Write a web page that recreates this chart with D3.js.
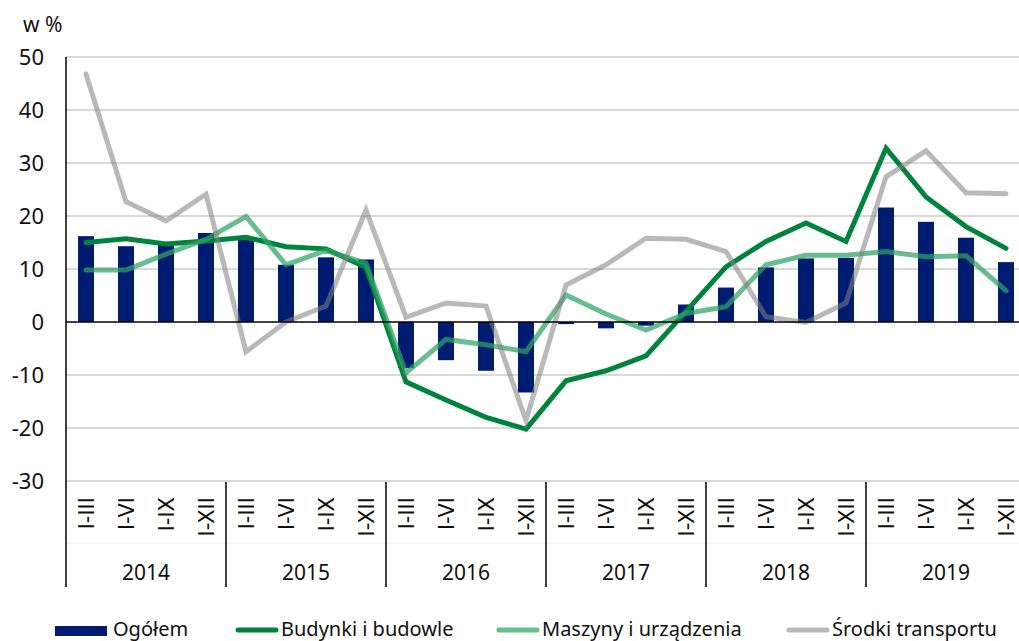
<!DOCTYPE html>
<html><head><meta charset="utf-8">
<script src="https://cdn.jsdelivr.net/npm/d3@7"></script>
<style>html,body{margin:0;padding:0;background:#fff;overflow:hidden}svg{display:block;font-family:"Noto Sans",sans-serif}</style>
</head><body><svg id="c" width="1019" height="641"></svg>
<script>
const years = ["2014","2015","2016","2017","2018","2019"];
const quarters = ["I-III","I-VI","I-IX","I-XII"];
const yTicks = [50,40,30,20,10,0,-10,-20,-30];
const ogolem = [16.2,14.3,14.8,16.8, 15.6,10.8,12.2,11.8, -8.7,-7.2,-9.2,-13.3, -0.4,-1.2,-0.7,3.3, 6.5,10.3,12.0,12.1, 21.6,18.9,15.9,11.3];
const budynki = [15.0,15.7,14.7,15.3, 16.0,14.2,13.8,10.3, -11.3,-14.7,-18.0,-20.2, -11.1,-9.2,-6.4,2.0, 10.4,15.2,18.7,15.2, 32.8,23.6,18.0,13.9];
const maszyny = [9.8,9.8,12.8,15.6, 19.9,10.8,13.5,11.1, -9.6,-3.3,-4.3,-5.6, 5.1,1.5,-1.5,1.6, 2.9,10.8,12.6,12.6, 13.3,12.3,12.5,5.9];
const srodki = [46.8,22.7,19.1,24.1, -5.6,0.0,3.0,21.1, 0.9,3.6,3.0,-18.6, 7.0,10.8,15.8,15.6, 13.3,1.0,-0.1,3.6, 27.4,32.3,24.4,24.2];
const seriesNames = ["Ogółem","Budynki i budowle","Maszyny i urządzenia","Środki transportu"];

const svg = d3.select("#c");
const cats = [];
years.forEach(y => quarters.forEach(q => cats.push(y + "|" + q)));
const x = d3.scaleBand().domain(cats).range([66, 1026]).paddingInner(0.6).paddingOuter(0.3);
const y = d3.scaleLinear().domain([-30, 50]).range([481, 57]);
const cx = c => x(c) + x.bandwidth() / 2;

// gridlines
svg.append("g").selectAll("line").data(yTicks.filter(t => t !== 0)).join("line")
  .attr("x1", 66).attr("x2", 1019).attr("y1", d => y(d)).attr("y2", d => y(d))
  .attr("stroke", "#d9d9d9").attr("stroke-width", 2);
svg.append("line").attr("x1", 66).attr("x2", 1019).attr("y1", 543).attr("y2", 543)
  .attr("stroke", "#eeeeee").attr("stroke-width", 1);

// y tick labels
svg.append("g").selectAll("text").data(yTicks).join("text")
  .attr("x", 44).attr("y", d => y(d)).attr("dy", "0.36em").attr("text-anchor", "end")
  .attr("font-size", 22).attr("fill", "#111").text(d => d);
svg.append("text").attr("x", 23).attr("y", 32).attr("font-size", 21).attr("fill", "#111").text("w %");

// bars
svg.append("g").selectAll("rect").data(ogolem).join("rect")
  .attr("x", (d, i) => x(cats[i])).attr("width", x.bandwidth())
  .attr("y", d => Math.min(y(d), y(0))).attr("height", d => Math.abs(y(d) - y(0)))
  .attr("fill", "#001c71");

// lines
const line = d3.line().x((d, i) => cx(cats[i])).y(d => y(d));
function drawLine(data, color, op) {
  svg.append("path").datum(data).attr("d", line).attr("fill", "none")
    .attr("stroke", color).attr("stroke-opacity", op).attr("stroke-width", 5)
    .attr("stroke-linejoin", "miter").attr("stroke-linecap", "round");
}
drawLine(budynki, "#00843d", 1);
drawLine(maszyny, "#2fa265", 0.72);
drawLine(srodki, "#7f7f7f", 0.55);

// axes
svg.append("line").attr("x1", 66).attr("x2", 1019).attr("y1", y(0)).attr("y2", y(0)).attr("stroke", "#000").attr("stroke-width", 1.5);
svg.append("line").attr("x1", 66).attr("x2", 66).attr("y1", 57).attr("y2", 587).attr("stroke", "#000").attr("stroke-width", 1.5);
svg.append("g").selectAll("line").data(years.slice(1)).join("line")
  .attr("x1", d => x(d + "|I-III") - x.step() * 0.3).attr("x2", d => x(d + "|I-III") - x.step() * 0.3)
  .attr("y1", 482).attr("y2", 587).attr("stroke", "#000").attr("stroke-width", 1.5);

// category labels
svg.append("g").selectAll("text").data(cats).join("text")
  .attr("transform", c => `translate(${cx(c) + 8},497) rotate(-90)`)
  .attr("text-anchor", "end").attr("font-size", 21).attr("fill", "#111")
  .style("font-family", "'DejaVu Sans', sans-serif")
  .text(c => c.split("|")[1]);
// year labels
svg.append("g").selectAll("text").data(years).join("text")
  .attr("x", d => (cx(d + "|I-III") + cx(d + "|I-XII")) / 2).attr("y", 580)
  .attr("text-anchor", "middle").attr("font-size", 21).attr("fill", "#111").text(d => d);

// legend
const lg = svg.append("g");
const lx = [55, 236, 497, 787];
const lcol = ["#001c71", "#00843d", "#2fa265", "#7f7f7f"];
const lop = [1, 1, 0.72, 0.55];
seriesNames.forEach((n, i) => {
  if (i === 0) lg.append("rect").attr("x", lx[i]).attr("y", 626).attr("width", 52).attr("height", 10).attr("fill", lcol[i]);
  else lg.append("line").attr("x1", lx[i] + 2).attr("x2", lx[i] + 40).attr("y1", 630).attr("y2", 630)
    .attr("stroke", lcol[i]).attr("stroke-opacity", lop[i]).attr("stroke-width", 5).attr("stroke-linecap", "round");
  lg.append("text").attr("x", i === 0 ? lx[i] + 58 : lx[i] + 45).attr("y", 636).attr("font-size", 20).attr("fill", "#111").text(n);
});
</script></body></html>
